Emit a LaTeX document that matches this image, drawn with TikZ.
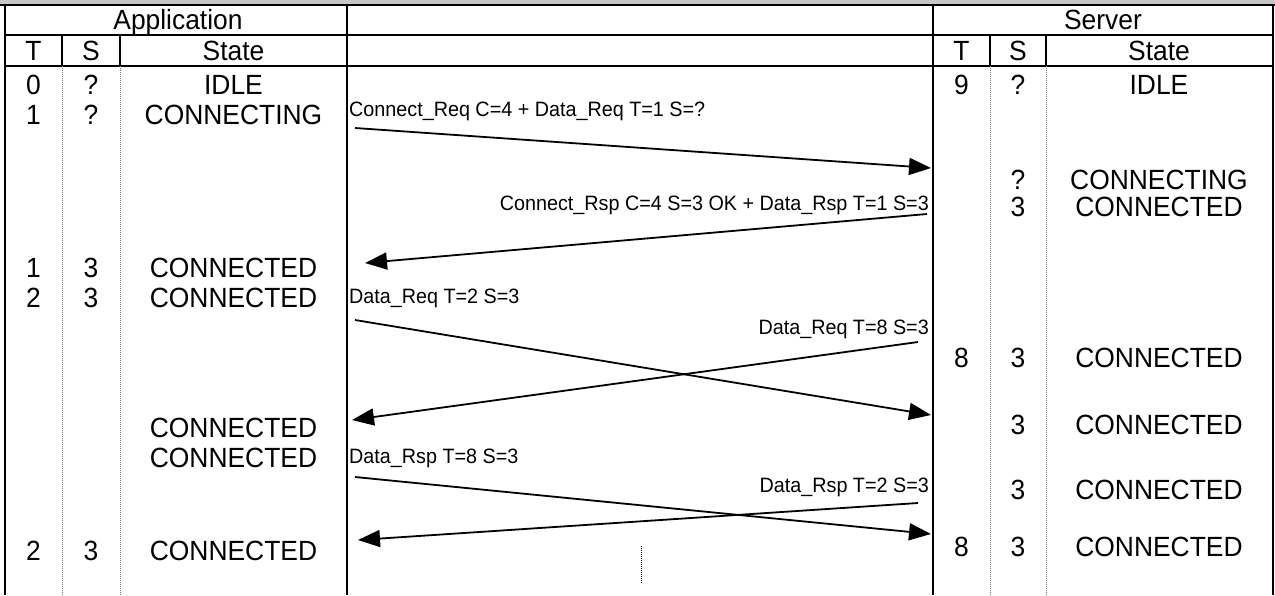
\documentclass[tikz,border=0pt]{standalone}
\usepackage{fontspec}
\setmainfont[FakeStretch=0.95]{Liberation Sans}
\usetikzlibrary{arrows.meta}
\begin{document}
\begin{tikzpicture}[x=1pt,y=-1pt,
  rule/.style={line width=2pt},
  coldiv/.style={line width=1pt, black!55, dash pattern=on 1pt off 1pt},
  big/.style={font=\fontsize{27.8pt}{30pt}\selectfont, inner sep=0pt, anchor=base},
  msgl/.style={font=\fontsize{20.8pt}{23pt}\selectfont, inner sep=0pt, anchor=base west},
  msgr/.style={font=\fontsize{20.8pt}{23pt}\selectfont, inner sep=0pt, anchor=base east},
  flow/.style={line width=1.8pt, -{Triangle[length=22pt,width=17pt]}},
]
\useasboundingbox (0,0) rectangle (1275,595);
\fill[gray!45] (0,0) rectangle (1275,4);

% table frame
\draw[rule] (0,4.5) -- (1275,4.5);
\draw[rule] (5,35) -- (1273,35);
\draw[rule] (5,66) -- (1273,66);
\draw[rule] (5,4.5) -- (5,595);
\draw[rule] (347,4.5) -- (347,595);
\draw[rule] (933,4.5) -- (933,595);
\draw[rule] (1273,4.5) -- (1273,595);
% header column dividers
\draw[rule] (62,35) -- (62,66);
\draw[rule] (120,35) -- (120,66);
\draw[rule] (990,35) -- (990,66);
\draw[rule] (1046,35) -- (1046,66);
% body column dividers
\draw[coldiv] (62,66) -- (62,595);
\draw[coldiv] (120,66) -- (120,595);
\draw[coldiv] (990,66) -- (990,595);
\draw[coldiv] (1046,66) -- (1046,595);

% headers
\node[big] (happ) at (178,29) {Application};
\node[big] (hsrv) at (1103,29) {Server};
\node[big] (haT) at (33.5,60) {T};
\node[big] (haS) at (91,60) {S};
\node[big] (haX) at (233.5,60) {State};
\node[big] (hsT) at (961.5,60) {T};
\node[big] (hsS) at (1018,60) {S};
\node[big] (hsX) at (1159,60) {State};

% application side
\node[big] (aT0) at (33.5,94) {0};
\node[big] (aS0) at (91,94) {?};
\node[big] (aX0) at (233.5,94) {IDLE};
\node[big] (aT1) at (33.5,124) {1};
\node[big] (aS1) at (91,124) {?};
\node[big] (aX1) at (233.5,124) {CONNECTING};
\node[big] (aT2) at (33.5,277) {1};
\node[big] (aS2) at (91,277) {3};
\node[big] (aX2) at (233.5,277) {CONNECTED};
\node[big] (aT3) at (33.5,307) {2};
\node[big] (aS3) at (91,307) {3};
\node[big] (aX3) at (233.5,307) {CONNECTED};
\node[big] (aX4) at (233.5,437) {CONNECTED};
\node[big] (aX5) at (233.5,467) {CONNECTED};
\node[big] (aT6) at (33.5,560) {2};
\node[big] (aS6) at (91,560) {3};
\node[big] (aX6) at (233.5,560) {CONNECTED};

% server side
\node[big] (sT0) at (961.5,94) {9};
\node[big] (sS0) at (1018,94) {?};
\node[big] (sX0) at (1159,94) {IDLE};
\node[big] (sS1) at (1018,189) {?};
\node[big] (sX1) at (1159,189) {CONNECTING};
\node[big] (sS2) at (1018,216) {3};
\node[big] (sX2) at (1159,216) {CONNECTED};
\node[big] (sT3) at (961.5,367) {8};
\node[big] (sS3) at (1018,367) {3};
\node[big] (sX3) at (1159,367) {CONNECTED};
\node[big] (sS4) at (1018,434) {3};
\node[big] (sX4) at (1159,434) {CONNECTED};
\node[big] (sS5) at (1018,499) {3};
\node[big] (sX5) at (1159,499) {CONNECTED};
\node[big] (sT6) at (961.5,556) {8};
\node[big] (sS6) at (1018,556) {3};
\node[big] (sX6) at (1159,556) {CONNECTED};

% message labels
\node[msgl] (m1) at (349,116) {Connect\_Req C=4 + Data\_Req T=1 S=?};
\node[msgr] (m2) at (929,210) {Connect\_Rsp C=4 S=3 OK + Data\_Rsp T=1 S=3};
\node[msgl] (m3) at (349,303) {Data\_Req T=2 S=3};
\node[msgr] (m4) at (929,334) {Data\_Req T=8 S=3};
\node[msgl] (m5) at (349,463) {Data\_Rsp T=8 S=3};
\node[msgr] (m6) at (929,492) {Data\_Rsp T=2 S=3};

% message arrows
\coordinate (s1) at (355,128); \coordinate (e1) at (931,168);
\coordinate (s2) at (927,214); \coordinate (e2) at (365,263);
\coordinate (s3) at (355,320); \coordinate (e3) at (931,415);
\coordinate (s4) at (918,342); \coordinate (e4) at (352,420);
\coordinate (s5) at (355,477); \coordinate (e5) at (931,534);
\coordinate (s6) at (918,503); \coordinate (e6) at (358,540);
\draw[flow] (s1) -- (e1);
\draw[flow] (s2) -- (e2);
\draw[flow] (s3) -- (e3);
\draw[flow] (s4) -- (e4);
\draw[flow] (s5) -- (e5);
\draw[flow] (s6) -- (e6);

% continuation mark
\coordinate (c1) at (641,546); \coordinate (c2) at (641,583);
\draw[line width=1pt, dash pattern=on 1pt off 1pt] (c1) -- (c2);
\end{tikzpicture}
\end{document}
